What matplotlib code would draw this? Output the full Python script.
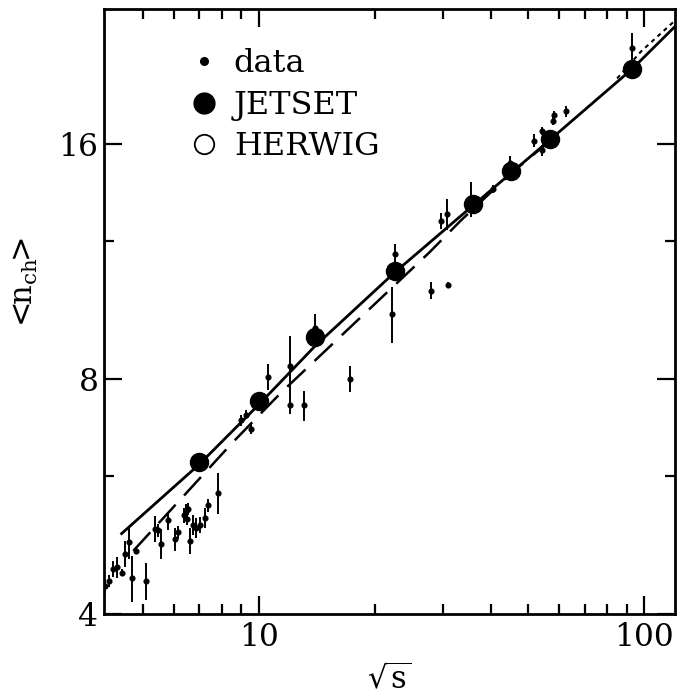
import matplotlib
matplotlib.use("Agg")
import matplotlib.pyplot as plt
from matplotlib.lines import Line2D
from matplotlib.ticker import FixedLocator, NullFormatter, FixedFormatter

plt.rcParams['mathtext.fontset'] = 'dejavuserif'

# ---- data ----
data_x = [3.98, 4.07, 4.19, 4.27, 4.40, 4.49, 4.60, 4.69, 4.80, 5.08, 5.37, 5.47, 5.58,
          5.81, 6.05, 6.17, 6.40, 6.45, 6.50, 6.55, 6.61, 6.74, 6.88, 7.02, 7.24, 7.38,
          7.83, 9.0, 9.27, 9.56, 10.55, 12.0, 12.0, 13.1, 14.0, 17.2, 22.2, 22.5, 28.0,
          30.9, 29.6, 30.8, 35.5, 40.4, 44.9, 51.8, 54.1, 54.4, 58.4, 58.0, 62.6, 93.0]
data_y = [4.35, 4.41, 4.57, 4.59, 4.52, 4.78, 4.94, 4.45, 4.82, 4.41, 5.14, 5.12, 4.92,
          5.27, 4.99, 5.09, 5.35, 5.42, 5.30, 5.45, 4.96, 5.20, 5.16, 5.20, 5.31, 5.51,
          5.72, 7.08, 7.20, 6.90, 8.05, 8.32, 7.40, 7.40, 9.30, 8.00, 9.70, 11.56, 10.38,
          10.55, 12.76, 13.00, 13.60, 14.00, 15.10, 16.15, 16.60, 15.70, 17.40, 17.10, 17.60, 21.2]
data_err = [0.09, 0.08, 0.11, 0.14, 0.05, 0.18, 0.24, 0.30, 0.05, 0.24, 0.20, 0.10, 0.22,
            0.14, 0.17, 0.10, 0.12, 0.12, 0.10, 0.10, 0.19, 0.15, 0.15, 0.12, 0.15, 0.11,
            0.35, 0.12, 0.10, 0.10, 0.30, 0.75, 0.18, 0.33, 0.40, 0.30, 0.80, 0.33, 0.25,
            0.10, 0.30, 0.60, 0.70, 0.15, 0.35, 0.30, 0.20, 0.25, 0.20, 0.20, 0.30, 1.00]

jetset_x = [7.0, 10.0, 14.0, 22.5, 36.0, 45.0, 57.0, 93.0]
jetset_y = [6.27, 7.49, 9.04, 11.0, 13.4, 14.76, 16.24, 19.97]

solid_x = [4.4, 7.0, 10.0, 14.0, 22.5, 36.0, 57.0, 93.0, 120.0]
solid_y = [5.07, 6.22, 7.42, 8.82, 10.95, 13.35, 16.2, 19.95, 22.6]

dash_x = [4.72, 8.56, 11.43, 27.7, 33.4, 45.0, 60.0]
dash_y = [4.82, 6.64, 7.69, 11.62, 12.76, 14.65, 16.5]

dot_x = [85.0, 98.0, 120.0]
dot_y = [19.4, 21.0, 23.0]

yticks_major = [4, 8, 16]
yticks_minor = [6, 12]
xticks_major = [10, 100]
xticks_minor = [5, 6, 7, 8, 9, 20, 30, 40, 50, 60, 70, 80, 90]

fig = plt.figure(figsize=(6.95, 6.98), dpi=100)
ax = fig.add_axes([0.1496, 0.1203, 0.8214, 0.8667])
ax.set_xscale('log')
ax.set_yscale('log')
ax.set_xlim(3.96, 120)
ax.set_ylim(4.0, 23.8)

ax.plot(solid_x, solid_y, '-', color='black', lw=2.0, zorder=2)
ax.plot(dash_x, dash_y, color='black', lw=1.8, dashes=(10, 5), zorder=2)
ax.plot(dot_x, dot_y, color='black', lw=1.5, dashes=(2, 2), zorder=2)

ax.errorbar(data_x, data_y, yerr=data_err, fmt='o', color='black', ms=3.4,
            elinewidth=1.4, capsize=0, zorder=3)
ax.plot(jetset_x, jetset_y, 'o', color='black', ms=13, zorder=4)

for s in ax.spines.values():
    s.set_linewidth(2.0)

ax.xaxis.set_major_locator(FixedLocator(xticks_major))
ax.xaxis.set_minor_locator(FixedLocator(xticks_minor))
ax.xaxis.set_major_formatter(FixedFormatter([str(v) for v in xticks_major]))
ax.xaxis.set_minor_formatter(NullFormatter())
ax.yaxis.set_major_locator(FixedLocator(yticks_major))
ax.yaxis.set_minor_locator(FixedLocator(yticks_minor))
ax.yaxis.set_major_formatter(FixedFormatter([str(v) for v in yticks_major]))
ax.yaxis.set_minor_formatter(NullFormatter())

ax.tick_params(which='both', direction='in', top=True, right=True, width=1.6)
ax.tick_params(which='major', length=13)
ax.tick_params(which='minor', length=7)
ax.tick_params(axis='x', which='major', pad=6)
ax.tick_params(axis='y', which='major', pad=4)
for lab in ax.get_xticklabels() + ax.get_yticklabels():
    lab.set_fontfamily('DejaVu Serif')
    lab.set_fontsize(22.5)

ax.set_xlabel(r'$\sqrt{\mathrm{s}}$', fontsize=22, labelpad=7)
ax.set_ylabel(r'$<\!\!\mathrm{n}_{\mathrm{ch}}\!\!>$', fontsize=22)
ax.yaxis.set_label_coords(-0.112, 0.545)

handles = [Line2D([], [], marker='o', ls='none', color='black', ms=5.5),
           Line2D([], [], marker='o', ls='none', color='black', ms=15),
           Line2D([], [], marker='o', ls='none', mfc='white', mec='black', mew=1.3, ms=14)]
leg = ax.legend(handles, ['data', 'JETSET', 'HERWIG'], loc='upper left',
                bbox_to_anchor=(0.152, 0.935), frameon=False, borderpad=0,
                borderaxespad=0, handlelength=0.8, handletextpad=0.55,
                labelspacing=0.33, prop={'family': 'DejaVu Serif', 'size': 23})

fig.savefig('out.png', dpi=100)
